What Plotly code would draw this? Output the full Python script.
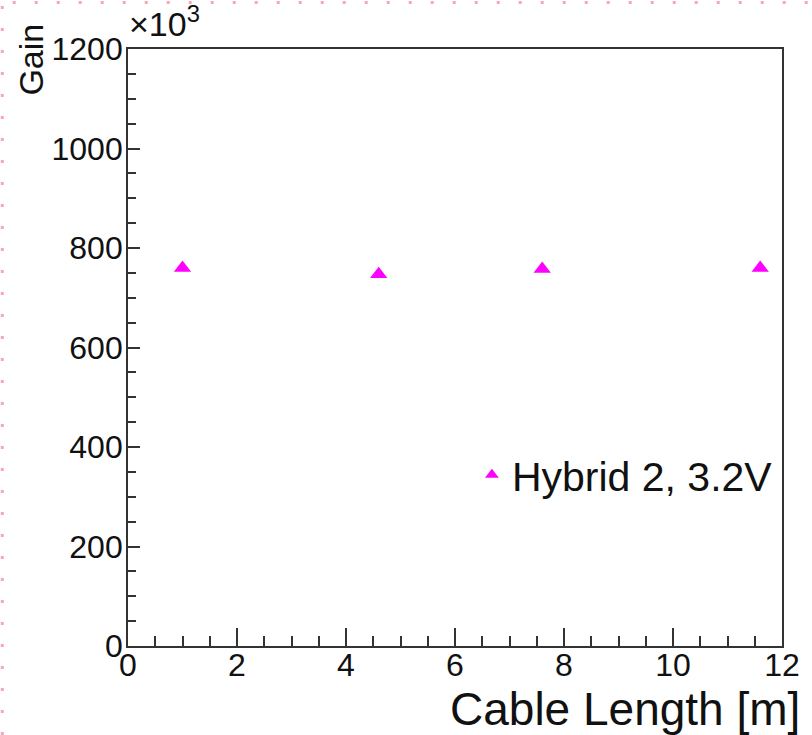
import plotly.graph_objects as go

# Data
cable_length_m = [1.0, 4.6, 7.6, 11.6]
gain = [760e3, 747e3, 758e3, 760e3]
series_name = "Hybrid 2, 3.2V"

W, H = 812, 735
L, R, T, B = 128, 26, 49, 89
pw, ph = W - L - R, H - T - B

def px2x(px):
    return (px - L) / pw

def py2y(py):
    return (H - B - py) / ph

fig = go.Figure()
fig.add_trace(go.Scatter(
    x=cable_length_m,
    y=[g / 1e3 for g in gain],
    mode="markers",
    name=series_name,
    marker=dict(symbol="triangle-up", size=15, color="#ff00ff", line=dict(width=0)),
))

font = "Liberation Sans, Arial, Helvetica, sans-serif"
axis_common = dict(
    showgrid=False, zeroline=False, showline=True, linecolor="#333", linewidth=1.8,
    mirror=True, ticks="inside", tickcolor="#333", tickwidth=1.5,
    tickfont=dict(family=font, size=32, color="#111"),
)

fig.update_layout(
    width=W, height=H,
    margin=dict(l=L, r=R, t=T, b=B, pad=0),
    paper_bgcolor="white", plot_bgcolor="white",
    xaxis=dict(range=[0, 12], dtick=2, tick0=0, ticklen=18, ticklabelstandoff=-10,
               minor=dict(dtick=0.5, ticklen=10, ticks="inside", tickcolor="#333", tickwidth=1.5),
               **axis_common),
    yaxis=dict(range=[0, 1200], dtick=200, tick0=0, ticklen=12, ticklabelstandoff=-3,
               minor=dict(dtick=50, ticklen=8, ticks="inside", tickcolor="#333", tickwidth=1.5),
               **axis_common),
    showlegend=True,
    legend=dict(x=px2x(474), y=py2y(475), xanchor="left", yanchor="middle",
                bgcolor="rgba(0,0,0,0)", borderwidth=0,
                font=dict(family=font, size=41, color="#111"),
                itemsizing="constant"),
    annotations=[
        dict(text="Cable Length [m]", x=px2x(806), y=py2y(709), xref="paper", yref="paper",
             xanchor="right", yanchor="middle", showarrow=False,
             font=dict(family=font, size=46, color="#111")),
        dict(text="Gain", x=px2x(30), y=py2y(60), xref="paper", yref="paper",
             xanchor="center", yanchor="middle", showarrow=False, textangle=-90,
             font=dict(family=font, size=34, color="#111")),
        dict(text="×10<sup>3</sup>", x=px2x(127), y=py2y(22), xref="paper", yref="paper",
             xanchor="left", yanchor="middle", showarrow=False,
             font=dict(family=font, size=34, color="#111")),
    ],
    shapes=[
        dict(type="line", xref="paper", yref="paper",
             x0=px2x(1.5), x1=px2x(1.5), y0=py2y(H), y1=py2y(0),
             line=dict(color="#f4a9b8", width=3, dash="3px,19px")),
        dict(type="line", xref="paper", yref="paper",
             x0=px2x(12), x1=px2x(W), y0=py2y(2.5), y1=py2y(2.5),
             line=dict(color="#f4a9b8", width=3, dash="3px,19px")),
    ],
)

fig.write_html("out.html")
